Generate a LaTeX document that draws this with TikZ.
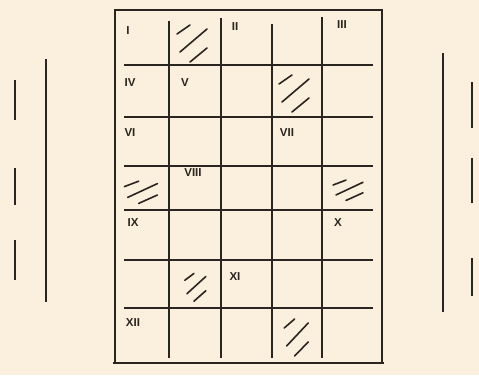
\documentclass[tikz,border=0pt]{standalone}
\usepackage{fontspec}
\setmainfont{Liberation Sans}
\begin{document}
\begin{tikzpicture}[x=1pt,y=-1pt,
  ink/.style={draw=inkc,line width=1.8pt},
  border/.style={draw=inkc,line width=2.2pt},
  side/.style={draw=inkc,line width=1.6pt},
  hatchline/.style={draw=inkc,line width=1.6pt,line cap=round},
  lbl/.style={text=inkc,font=\fontsize{11.5}{12}\selectfont\bfseries,inner sep=0pt},
  hatch/.pic={\draw[hatchline] (-16,-9)--(-3,-18);
              \draw[hatchline] (-13,9)--(14,-14);
              \draw[hatchline] (-3,19)--(14,5);}]
\definecolor{bgc}{HTML}{FBEFDD}
\definecolor{inkc}{HTML}{2A2520}
\fill[bgc] (0,0) rectangle (479,375);
\useasboundingbox (0,0) rectangle (479,375);
% outer frame
\draw[border,line width=2.6pt] (114,10) -- (383,10);
\draw[border] (115,10) -- (115,363);
\draw[border] (382,10) -- (382,363);
\draw[border,line width=2.6pt] (113,363) -- (384,363);
% horizontal rules
\foreach \yy in {65,117,166,210,260,308}
  \draw[ink] (124,\yy) -- (373,\yy);
% vertical rules
\draw[ink] (169,21) -- (169,358);
\draw[ink] (221,18) -- (221,358);
\draw[ink] (272,24) -- (272,358);
\draw[ink] (322,17) -- (322,358);
% side lines
\draw[side] (46,59) -- (46,302);
\draw[side] (15,80) -- (15,120);
\draw[side] (15,168) -- (15,205);
\draw[side] (15,240) -- (15,280);
\draw[side] (443,53) -- (443,312);
\draw[side] (472,82) -- (472,128);
\draw[side] (472,158) -- (472,203);
\draw[side] (472,258) -- (472,296);
% hatched cells
\pic at (193,43) {hatch};
\pic at (295,93) {hatch};
\pic[xscale=1.1,yscale=0.6] at (142,192) {hatch};
\pic[xscale=1.0,yscale=0.55] at (349,190) {hatch};
\pic[xscale=0.7,yscale=0.75] at (196,287) {hatch};
\pic[xscale=0.8,yscale=1.0] at (297,337) {hatch};
% labels
\node[lbl] (l1) at (128,31) {I};
\node[lbl] (l2) at (235,27) {II};
\node[lbl] (l3) at (342,25) {III};
\node[lbl] (l4) at (130,83) {IV};
\node[lbl] (l5) at (185,83) {V};
\node[lbl] (l6) at (130,133) {VI};
\node[lbl] (l7) at (287,133) {VII};
\node[lbl] (l8) at (193,173) {VIII};
\node[lbl] (l9) at (133,223) {IX};
\node[lbl] (l10) at (338,223) {X};
\node[lbl] (l11) at (235,277) {XI};
\node[lbl] (l12) at (133,323) {XII};
\end{tikzpicture}
\end{document}
